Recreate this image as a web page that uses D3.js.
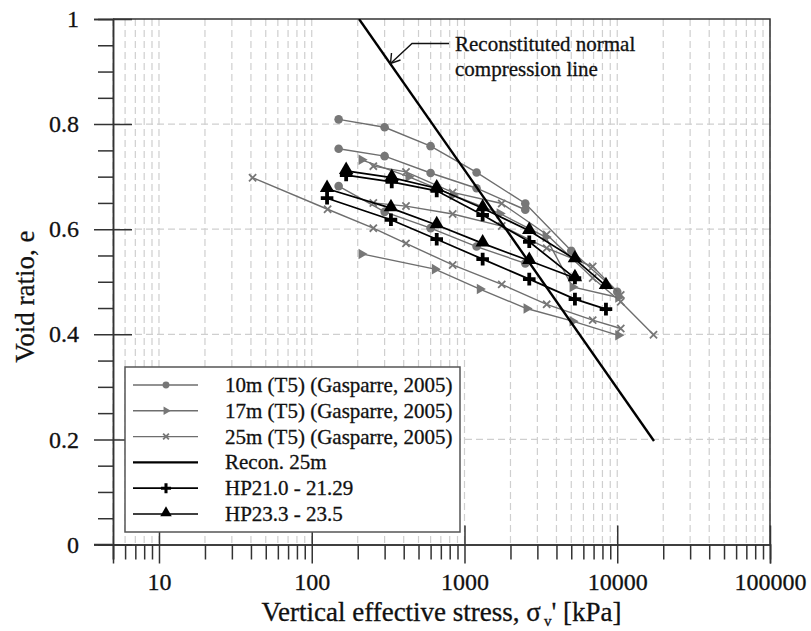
<!DOCTYPE html>
<html>
<head>
<meta charset="utf-8">
<script src="https://cdn.jsdelivr.net/npm/d3@7"></script>
<style>
  html, body { margin: 0; padding: 0; background: #fff; }
  svg { display: block; font-family: "Liberation Serif", "Times New Roman", serif; }
  svg text { stroke: #111; stroke-width: 0.3px; }
</style>
</head>
<body>
<svg id="chart" width="811" height="631"></svg>
<script>
// Oedometer compression curves: void ratio against vertical effective stress (log scale)

// 10m (T5) Gasparre, 2005 — circles
const g10a = [[150, 0.809], [300, 0.794], [600, 0.758], [1200, 0.708], [2500, 0.649], [5000, 0.559], [10000, 0.481]];
const g10b = [[150, 0.753], [300, 0.739], [600, 0.707], [1200, 0.678], [2500, 0.637]];
const g10c = [[150, 0.682], [300, 0.633], [600, 0.602], [1200, 0.567], [2500, 0.535]];

// 17m (T5) Gasparre, 2005 — right-pointing triangles
const g17a = [[212, 0.553], [640, 0.524], [1260, 0.486], [2550, 0.449], [5100, 0.425], [10160, 0.398]];
const g17b = [[212, 0.732], [430, 0.700], [840, 0.665], [1700, 0.630], [3400, 0.585], [5100, 0.490], [10160, 0.470]];

// 25m (T5) Gasparre, 2005 — crosses
const g25a = [[41, 0.698], [127, 0.638], [253, 0.602], [414, 0.573], [837, 0.532], [1753, 0.495], [3452, 0.457], [6906, 0.427], [10540, 0.411]];
const g25b = [[253, 0.720], [414, 0.709], [837, 0.670], [1753, 0.649], [3452, 0.590], [6906, 0.507], [10540, 0.462], [17270, 0.399]];
const g25c = [[253, 0.650], [414, 0.644], [837, 0.629], [1753, 0.606], [3452, 0.564], [6906, 0.529], [10540, 0.475]];

// Reconstituted normal compression line, 25m
const recon25 = [[204, 1.0], [17400, 0.197]];

// HP21.0 - 21.29 — plus markers
const hp21a = [[168, 0.703], [334, 0.690], [658, 0.673], [1315, 0.627], [2655, 0.576], [5285, 0.507]];
const hp21b = [[126, 0.659], [330, 0.618], [658, 0.581], [1315, 0.543], [2655, 0.505], [5285, 0.467], [8435, 0.448]];

// HP23.3 - 23.5 — up triangles
const hp23a = [[168, 0.711], [334, 0.698], [658, 0.678], [1315, 0.640], [2655, 0.597], [5285, 0.543], [8435, 0.492]];
const hp23b = [[126, 0.677], [330, 0.640], [658, 0.608], [1315, 0.573], [2655, 0.540], [5285, 0.507]];

// Axis ticks
const xMajorTicks = [10, 100, 1000, 10000, 100000];
const xTickLabels = ["10", "100", "1000", "10000", "100000"];
const yMajorTicks = [0, 0.2, 0.4, 0.6, 0.8, 1];
const yTickLabels = ["0", "0.2", "0.4", "0.6", "0.8", "1"];

const legendLabels = [
  "10m (T5) (Gasparre, 2005)",
  "17m (T5) (Gasparre, 2005)",
  "25m (T5) (Gasparre, 2005)",
  "Recon. 25m",
  "HP21.0 - 21.29",
  "HP23.3 - 23.5"
];

const svg = d3.select("#chart");
const L = 113, R = 770, T = 19, B = 544.5;

const x = d3.scaleLog().domain([5, 100000]).range([L, R]);
const y = d3.scaleLinear().domain([0, 1]).range([B, T]);

const xMinor = [];
for (let d = 1; d <= 10000; d *= 10) {
  for (let m = 1; m <= 9; m++) {
    const v = d * m;
    if (v >= 5 && !xMajorTicks.includes(v)) xMinor.push(v);
  }
}
const yMinor = d3.range(0, 1.0001, 0.05).map(v => +v.toFixed(2)).filter(v => !yMajorTicks.some(t => Math.abs(t - v) < 1e-6));

const gray = "#777";
const grayLine = "#6e6e6e";

// grid
const grid = svg.append("g").attr("stroke", "#cfcfcf").attr("stroke-width", 1.2).attr("stroke-dasharray", "7,4");
grid.selectAll("line.vx").data(xMinor.concat(xMajorTicks)).join("line")
  .attr("x1", d => x(d)).attr("x2", d => x(d)).attr("y1", T).attr("y2", B);
grid.selectAll("line.hy").data([0.2, 0.4, 0.6, 0.8]).join("line")
  .attr("x1", L).attr("x2", R).attr("y1", d => y(d)).attr("y2", d => y(d));

// frame (top and right)
svg.append("path").attr("d", `M${L},${T}H${R}V${B}`).attr("fill", "none").attr("stroke", "#333").attr("stroke-width", 1.5);

// axes
const axisStroke = "#333";
const xMinorAxis = svg.append("g").attr("transform", `translate(0,${B})`)
  .call(d3.axisBottom(x).tickValues(xMinor).tickSize(15).tickFormat(""));
const xMajorAxis = svg.append("g").attr("transform", `translate(0,${B})`)
  .call(d3.axisBottom(x).tickValues(xMajorTicks).tickSize(19).tickPadding(9)
    .tickFormat((d, i) => xTickLabels[i]));
xMajorAxis.selectAll(".tick line").attr("y1", -19);

const yMinorAxis = svg.append("g").attr("transform", `translate(${L},0)`)
  .call(d3.axisLeft(y).tickValues(yMinor).tickSize(15).tickFormat(""));
const yMajorAxis = svg.append("g").attr("transform", `translate(${L},0)`)
  .call(d3.axisLeft(y).tickValues(yMajorTicks).tickSize(19).tickPadding(15)
    .tickFormat((d, i) => yTickLabels[i]));
yMajorAxis.selectAll(".tick line").attr("x1", 19);

[xMinorAxis, xMajorAxis, yMinorAxis, yMajorAxis].forEach(g => {
  g.selectAll(".domain").attr("stroke", axisStroke).attr("stroke-width", 1.5);
  g.selectAll(".tick line").attr("stroke", axisStroke).attr("stroke-width", 1.5);
  g.selectAll(".tick text").attr("fill", "#111").style("font-size", "24px")
    .style("font-family", '"Liberation Serif", serif');
});
// baseline continues a little left of the y axis
svg.append("line").attr("x1", 94).attr("x2", L).attr("y1", B).attr("y2", B).attr("stroke", axisStroke).attr("stroke-width", 1.5);

// axis titles
svg.append("text").attr("x", (L + R) / 2).attr("y", 621).attr("text-anchor", "middle")
  .style("font-size", "27px").attr("fill", "#111")
  .call(t => {
    t.append("tspan").text("Vertical effective stress, σ");
    t.append("tspan").attr("dx", 3).attr("dy", 5).style("font-size", "15px").text("v");
    t.append("tspan").attr("dy", -5).text("' [kPa]");
  });
svg.append("text").attr("transform", `translate(34,${(T + B) / 2 + 15}) rotate(-90)`).attr("text-anchor", "middle")
  .style("font-size", "27px").attr("fill", "#111").text("Void ratio, e");

// clip to plotting area
svg.append("clipPath").attr("id", "plotclip").append("rect").attr("x", L).attr("y", T).attr("width", R - L).attr("height", B - T);
const plot = svg.append("g").attr("clip-path", "url(#plotclip)");

const line = d3.line().x(d => x(d[0])).y(d => y(d[1]));

function drawSeries(data, opts) {
  plot.append("path").datum(data).attr("d", line).attr("fill", "none")
    .attr("stroke", opts.stroke).attr("stroke-width", opts.width);
  const m = plot.append("g");
  data.forEach(d => drawMarker(m, x(d[0]), y(d[1]), opts.marker, opts.mcolor, 1));
}

function drawMarker(g, cx, cy, kind, color, s) {
  if (kind === "circle") {
    g.append("circle").attr("cx", cx).attr("cy", cy).attr("r", 4.3 * s).attr("fill", color);
  } else if (kind === "rtri") {
    g.append("path").attr("transform", `translate(${cx},${cy}) rotate(90)`)
      .attr("d", d3.symbol().type(d3.symbolTriangle).size(48 * s * s)()).attr("fill", color);
  } else if (kind === "x") {
    const r = 3.6 * s;
    g.append("path").attr("d", `M${cx - r},${cy - r}L${cx + r},${cy + r}M${cx - r},${cy + r}L${cx + r},${cy - r}`)
      .attr("stroke", color).attr("stroke-width", 1.8).attr("fill", "none");
  } else if (kind === "plus") {
    const r = 6.3 * s;
    g.append("path").attr("d", `M${cx - r},${cy}H${cx + r}M${cx},${cy - r}V${cy + r}`)
      .attr("stroke", color).attr("stroke-width", 3.8 * s).attr("fill", "none");
  } else if (kind === "utri") {
    g.append("path").attr("transform", `translate(${cx},${cy - 1})`)
      .attr("d", d3.symbol().type(d3.symbolTriangle).size(90 * s * s)()).attr("fill", color);
  }
}

// gray reference curves
[g10a, g10b, g10c].forEach(s => drawSeries(s, { stroke: grayLine, width: 1.4, marker: "circle", mcolor: gray }));
[g17a, g17b].forEach(s => drawSeries(s, { stroke: grayLine, width: 1.4, marker: "rtri", mcolor: gray }));
[g25a, g25b, g25c].forEach(s => drawSeries(s, { stroke: grayLine, width: 1.4, marker: "x", mcolor: gray }));

// reconstituted line
plot.append("path").datum(recon25).attr("d", line).attr("fill", "none").attr("stroke", "#000").attr("stroke-width", 2.4);

// HP samples
[hp21a, hp21b].forEach(s => drawSeries(s, { stroke: "#000", width: 1.7, marker: "plus", mcolor: "#000" }));
[hp23a, hp23b].forEach(s => drawSeries(s, { stroke: "#000", width: 1.7, marker: "utri", mcolor: "#000" }));

// annotation
const ann = svg.append("g");
ann.append("path").attr("d", "M449,43.5H412L390.5,63.5").attr("fill", "none").attr("stroke", "#111").attr("stroke-width", 1.4);
ann.append("path").attr("d", "M391.5,53 L390.5,63.5 L400.5,60").attr("fill", "none").attr("stroke", "#111").attr("stroke-width", 1.4);
ann.append("text").attr("x", 455).attr("y", 51).style("font-size", "21px").attr("fill", "#111").text("Reconstituted normal");
ann.append("text").attr("x", 455).attr("y", 76).style("font-size", "21px").attr("fill", "#111").text("compression line");

// legend
const lg = svg.append("g");
lg.append("rect").attr("x", 125).attr("y", 367).attr("width", 335).attr("height", 165)
  .attr("fill", "#fff").attr("stroke", "#555").attr("stroke-width", 1.5);
const legendStyle = [
  { stroke: grayLine, width: 1.4, marker: "circle", mcolor: gray },
  { stroke: grayLine, width: 1.4, marker: "rtri", mcolor: gray },
  { stroke: grayLine, width: 1.4, marker: "x", mcolor: gray },
  { stroke: "#000", width: 2.4, marker: null },
  { stroke: "#000", width: 1.7, marker: "plus", mcolor: "#000" },
  { stroke: "#000", width: 1.7, marker: "utri", mcolor: "#000" },
];
legendLabels.forEach((lab, i) => {
  const cy = 385 + i * 25.8;
  const st = legendStyle[i];
  lg.append("line").attr("x1", 133).attr("x2", 198).attr("y1", cy).attr("y2", cy)
    .attr("stroke", st.stroke).attr("stroke-width", st.width);
  if (st.marker) drawMarker(lg, 166, cy, st.marker, st.mcolor, 0.8);
  lg.append("text").attr("x", 225).attr("y", cy + 7).style("font-size", "21px").attr("fill", "#111").text(lab);
});
</script>
</body>
</html>
